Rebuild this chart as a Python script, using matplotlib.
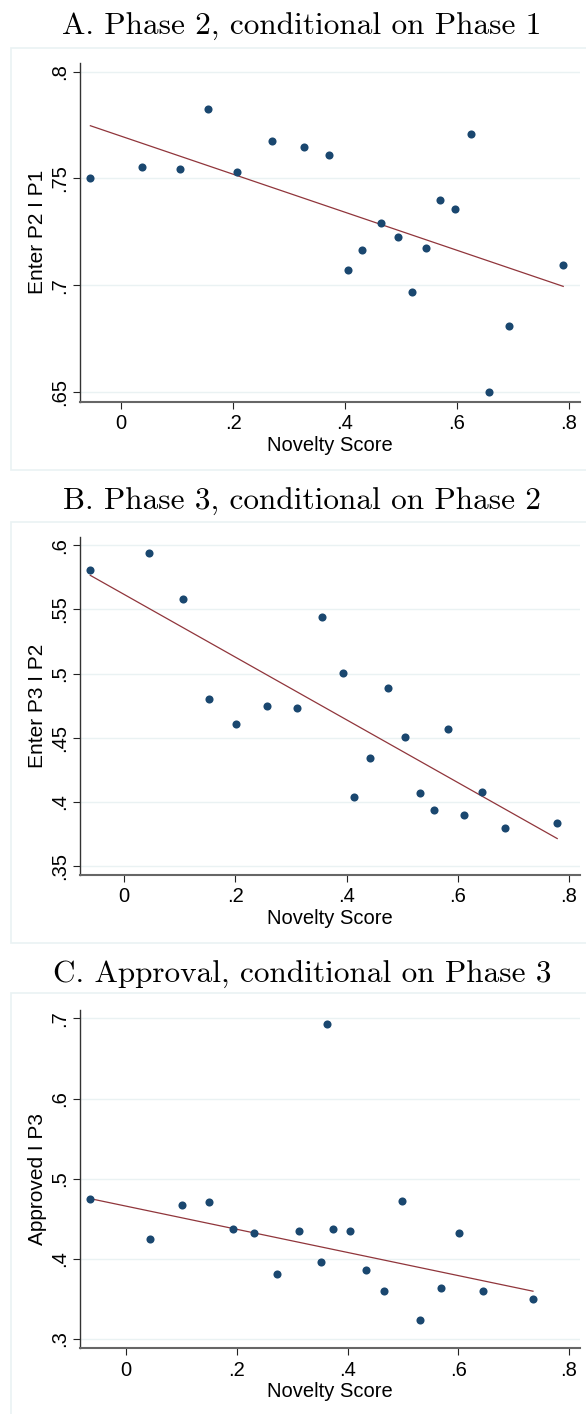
import matplotlib
matplotlib.use("Agg")
from matplotlib import pyplot as plt
from matplotlib.patches import Rectangle
import numpy as np

# binned scatter points
novelty_a = [-0.055, 0.037, 0.105, 0.156, 0.207, 0.270, 0.327, 0.372, 0.406, 0.431,
             0.465, 0.494, 0.520, 0.545, 0.570, 0.597, 0.625, 0.657, 0.693, 0.790]
enter_p2 = [0.7503, 0.7555, 0.7545, 0.7826, 0.7530, 0.7676, 0.7648, 0.7611, 0.7072, 0.7164,
            0.7290, 0.7226, 0.6970, 0.7173, 0.7398, 0.7356, 0.7708, 0.6502, 0.6808, 0.7094]

novelty_b = [-0.061, 0.045, 0.105, 0.153, 0.202, 0.257, 0.311, 0.355, 0.393, 0.413,
             0.442, 0.475, 0.506, 0.533, 0.558, 0.582, 0.611, 0.644, 0.685, 0.779]
enter_p3 = [0.5805, 0.5940, 0.5579, 0.4802, 0.4607, 0.4748, 0.4729, 0.5440, 0.5005, 0.4034,
            0.4344, 0.4886, 0.4505, 0.4068, 0.3935, 0.4565, 0.3899, 0.4078, 0.3794, 0.3836]

novelty_c = [-0.065, 0.043, 0.100, 0.149, 0.193, 0.230, 0.273, 0.313, 0.352, 0.362,
             0.374, 0.405, 0.434, 0.465, 0.499, 0.531, 0.568, 0.602, 0.644, 0.735]
approved = [0.4751, 0.4253, 0.4673, 0.4713, 0.4370, 0.4328, 0.3817, 0.4353, 0.3958, 0.6929,
            0.4370, 0.4353, 0.3855, 0.3601, 0.4718, 0.3232, 0.3634, 0.4320, 0.3604, 0.3497]

# linear fit (intercept, slope), estimated on the underlying data
fit_a = (0.7698, -0.0890)
fit_b = (0.5617, -0.2446)
fit_c = (0.4657, -0.1443)

titles = ["A. Phase 2, conditional on Phase 1",
          "B. Phase 3, conditional on Phase 2",
          "C. Approval, conditional on Phase 3"]
ylabels = ["Enter P2 I P1", "Enter P3 I P2", "Approved I P3"]
yticks = [[0.65, 0.7, 0.75, 0.8],
          [0.35, 0.4, 0.45, 0.5, 0.55, 0.6],
          [0.3, 0.4, 0.5, 0.6, 0.7]]
ytick_labels = [[".65", ".7", ".75", ".8"],
                [".35", ".4", ".45", ".5", ".55", ".6"],
                [".3", ".4", ".5", ".6", ".7"]]
ylims = [(0.6455, 0.8042), (0.3427, 0.6068), (0.2888, 0.7104)]
xlims = [(-0.073, 0.82), (-0.079, 0.82), (-0.083, 0.82)]
xticks = [0, 0.2, 0.4, 0.6, 0.8]
xtick_labels = ["0", ".2", ".4", ".6", ".8"]

navy = "#1a476f"
maroon = "#90353b"
grid_col = "#eaf2f3"

W, H = 586, 1414
fig = plt.figure(figsize=(W / 100, H / 100), dpi=100)
fig.patch.set_facecolor("white")

# pixel layout: (box top, box bottom, axes top, axes bottom, title y)
layout = [(48, 470, 62.7, 401.7, 27),
          (522, 943, 536.7, 875, 502),
          (993, 1420, 1010, 1348, 975)]

panels = [(novelty_a, enter_p2, fit_a), (novelty_b, enter_p3, fit_b), (novelty_c, approved, fit_c)]

ax_left, ax_right = 80.3, 580

for i, (xs, ys, fit) in enumerate(panels):
    btop, bbot, atop, abot, ty = layout[i]
    fig.patches.append(Rectangle((11 / W, 1 - bbot / H), (W + 10 - 11) / W, (bbot - btop) / H,
                                 transform=fig.transFigure, facecolor="white",
                                 edgecolor=grid_col, linewidth=1.2, zorder=-5))
    fig.text(0.515, 1 - ty / H, titles[i], ha="center", va="center",
             fontsize=22.5, family="cmr10")

    ax = fig.add_axes([ax_left / W, 1 - abot / H, (ax_right - ax_left) / W, (abot - atop) / H])
    ax.set_zorder(1)
    ax.patch.set_alpha(0)
    xs = np.array(xs)
    ys = np.array(ys)
    ax.scatter(xs, ys, s=34, color=navy, zorder=3, linewidths=0)
    xf = np.array([xs.min(), xs.max()])
    ax.plot(xf, fit[0] + fit[1] * xf, color=maroon, linewidth=0.9, zorder=2)

    ax.set_xlim(*xlims[i])
    ax.set_ylim(*ylims[i])
    ax.set_xticks(xticks)
    ax.set_xticklabels(xtick_labels)
    ax.set_yticks(yticks[i])
    ax.set_yticklabels(ytick_labels[i], rotation=90, va="center")
    ax.grid(axis="y", color=grid_col, linewidth=1.0, zorder=0)
    ax.set_axisbelow(True)
    for s in ["top", "right"]:
        ax.spines[s].set_visible(False)
    ax.spines["left"].set_color("#333333")
    ax.spines["bottom"].set_color("#666666")
    ax.spines["bottom"].set_linewidth(1.5)
    ax.spines["left"].set_linewidth(1.0)
    ax.tick_params(axis="both", direction="out", length=5, width=0.8, color="#222222",
                   labelsize=14.5, labelfontfamily="Liberation Sans")
    ax.tick_params(axis="y", pad=3)
    ax.tick_params(axis="x", pad=4)
    ax.set_xlabel("Novelty Score", fontsize=14.5, family="Liberation Sans", labelpad=2)
    ax.set_ylabel(ylabels[i], fontsize=15, family="Liberation Sans", labelpad=2)

fig.savefig("out.png", dpi=100, facecolor="white")
